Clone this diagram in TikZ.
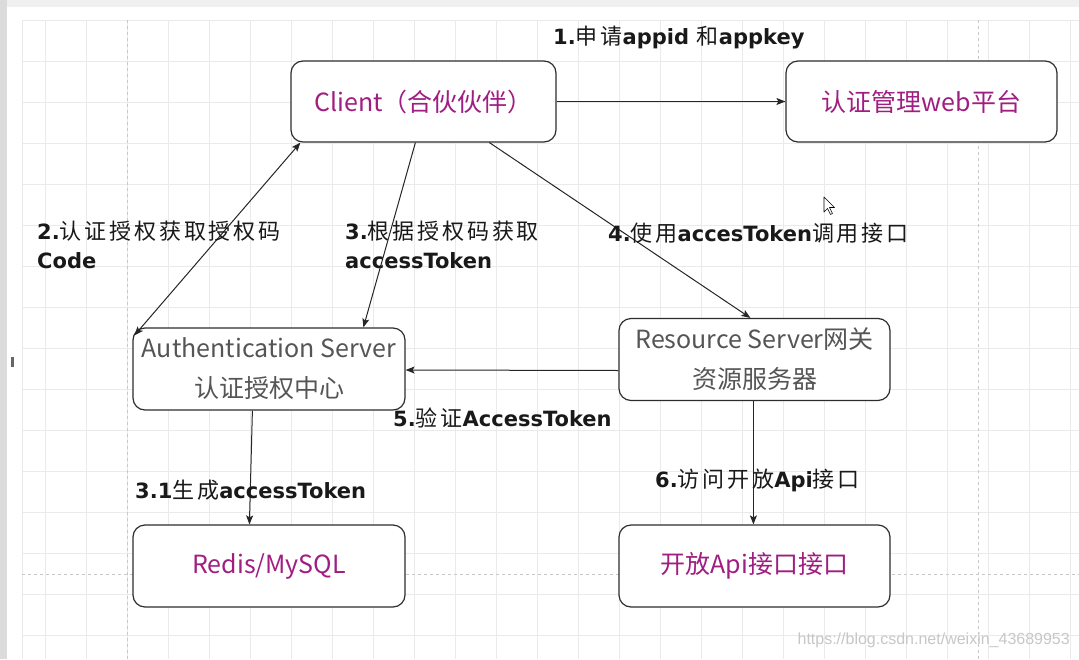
\documentclass[tikz,border=0pt]{standalone}
\usepackage{fontspec}
\setmainfont{Noto Sans CJK SC}
\newfontfamily\cjkl[LetterSpace=13]{Noto Sans CJK SC}
\newfontfamily\latb{DejaVu Sans}
\newfontfamily\wmfont{Liberation Sans}
\usetikzlibrary{arrows.meta,calc}
\definecolor{mag}{RGB}{160,30,130}
\definecolor{graytxt}{RGB}{85,85,85}
\definecolor{gridc}{RGB}{234,234,234}
\definecolor{pagec}{RGB}{200,200,200}
\definecolor{boxc}{RGB}{45,45,45}
\newcommand\lb[1]{{\latb\bfseries\fontsize{21}{29}\selectfont #1}}
\tikzset{
  box/.style={draw=boxc, line width=1.2pt, rounded corners=12pt, fill=white,
    minimum width=271pt, minimum height=81pt, inner sep=0pt, align=center,
    font=\fontsize{25}{40}\selectfont},
  magtxt/.style={text=mag},
  graybox/.style={text=graytxt},
  lab/.style={anchor=west, inner sep=0pt, align=left,
    font=\cjkl\fontsize{22}{29}\selectfont, text=black!90},
  conn/.style={draw=black!85, line width=1pt, -{Stealth[length=9pt,width=7pt,inset=2pt]}},
  conn2/.style={draw=black!85, line width=1pt, {Stealth[length=9pt,width=7pt,inset=2pt]}-{Stealth[length=9pt,width=7pt,inset=2pt]}},
}
\begin{document}
\begin{tikzpicture}[x=1pt,y=-1pt]
\useasboundingbox (0,0) rectangle (1079,659);
\fill[white] (0,0) rectangle (1079,659);
% grid
\foreach \x in {45,86,...,1079} \draw[gridc, line width=0.8pt] (\x,20) -- (\x,659);
\foreach \y in {20,61,...,659} \draw[gridc, line width=0.8pt] (22,\y) -- (1079,\y);
\draw[gridc, line width=0.8pt] (22,20) -- (22,659);
% page breaks
\draw[pagec, dashed, line width=0.8pt] (127,20) -- (127,659);
\draw[pagec, dashed, line width=0.8pt] (978,20) -- (978,659);
\draw[pagec, dashed, line width=0.8pt] (22,574) -- (1079,574);
% window chrome
\fill[black!6] (0,0) rectangle (1079,7);
\fill[black!14] (0,0) rectangle (7,659);
\fill[black!60] (11,357) rectangle (14,367);

% boxes
\node[box, magtxt, minimum width=265pt] (client) at (423.5,101.5) {Client（合伙伙伴）};
\node[box, magtxt] (web) at (921.5,101.5) {认证管理web平台};
\node[box, graybox, minimum width=272pt, minimum height=82pt] (auth) at (269,369) {Authentication Server\\认证授权中心};
\node[box, graybox, minimum height=82pt] (res) at (754.5,359.5) {Resource Server网关\\资源服务器};
\node[box, magtxt, minimum width=272pt, minimum height=82pt] (db) at (269,566) {Redis/MySQL};
\node[box, magtxt, minimum height=82pt] (api) at (754.5,566) {开放Api接口接口};

% connectors
\draw[conn] (client.east) -- (web.west);
\draw[conn2] ($(client.south west)+(10,0)$) -- ($(auth.north west)+(2,8)$);
\draw[conn] ($(client.south west)+(125,0)$) -- ($(auth.north west)+(231,0)$);
\draw[conn] ($(client.south west)+(199,0)$) -- ($(res.north west)+(132,0)$);
\draw[conn] ($(res.west)+(0,11)$) -- ($(auth.east)+(0,1)$);
\draw[conn] ($(auth.south west)+(120,0)$) -- ($(db.north west)+(117,0)$);
\draw[conn] ($(res.south west)+(135,0)$) -- ($(api.north west)+(135,0)$);

% labels
\node[lab] (l1) at (553,38) {\lb{1.}申请\lb{appid} 和\lb{appkey}};
\node[lab, anchor=north west] (l2) at (37,221) {\lb{2.}认证授权获取授权码\\\lb{Code}};
\node[lab, anchor=north west] (l3) at (345,221) {\lb{3.}根据授权码获取\\\lb{accessToken}};
\node[lab] (l4) at (608,233) {\lb{4.}使用\lb{accesToken}调用接口};
\node[lab] (l5) at (393,418) {\lb{5.}验证\lb{AccessToken}};
\node[lab] (l31) at (135,490) {\lb{3.1}生成\lb{accessToken}};
\node[lab] (l6) at (655,480) {\lb{6.}访问开放\lb{Api}接口};

% mouse cursor
\draw[black, line width=0.6pt, fill=white, line join=round]
  (824,197) -- (824,212) -- (827.5,208.5) -- (830.5,214.5) -- (832.5,213.5) -- (829.5,207.5) -- (834.5,207.5) -- cycle;

% watermark
\node[anchor=east, inner sep=0pt, text=black!22, font=\wmfont\fontsize{16}{20}\selectfont] (wm) at (1070,640) {https://blog.csdn.net/weixin\_43689953};
\end{tikzpicture}
\end{document}
